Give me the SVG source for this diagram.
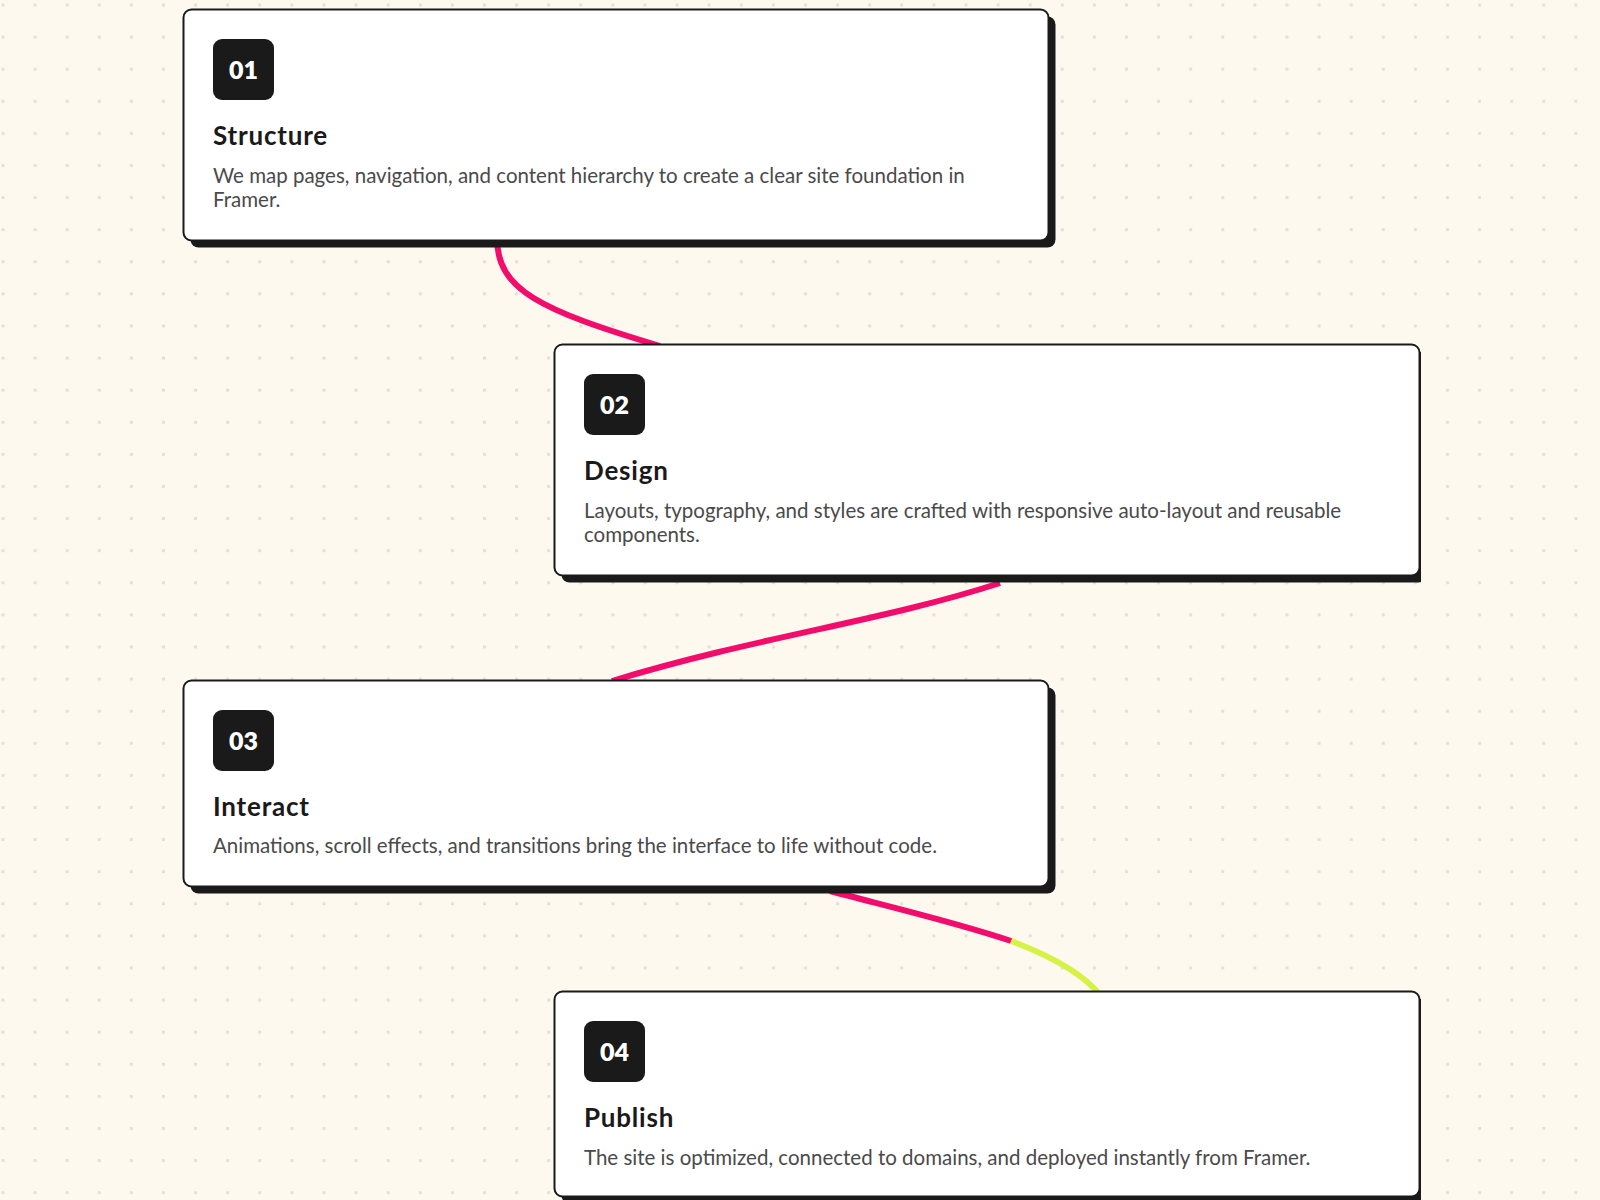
<svg xmlns="http://www.w3.org/2000/svg" width="1600" height="1200" viewBox="0 0 1600 1200">
  <defs>
    <pattern id="dots" x="1.5" y="3.5" width="32.1" height="32.1" patternUnits="userSpaceOnUse">
      <rect width="3" height="3" fill="#e4e0d8"/>
    </pattern>
    <clipPath id="pageClip">
      <rect x="0" y="0" width="1421" height="1200"/>
    </clipPath>
    <style>
      .shadow { fill: #1a1a1a; }
      .card { fill: #ffffff; stroke: #1a1a1a; stroke-width: 2; }
      .badge { fill: #1a1a1a; }
      .num { font-family: "Lato", "Liberation Sans", sans-serif; font-weight: 800; font-size: 25px; fill: #ffffff; text-anchor: middle; }
      .title { font-family: "Lato", "Liberation Sans", sans-serif; font-weight: 700; font-size: 26px; letter-spacing: 0.8px; fill: #1a1a1a; }
      .desc { font-family: "Lato", "Liberation Sans", sans-serif; font-weight: 400; font-size: 20.5px; fill: #4a4a4a; }
      .conn { fill: none; stroke-width: 6; stroke-linecap: butt; }
      .pink { stroke: #f20c6c; }
      .lime { stroke: #d6f244; }
    </style>
  </defs>
  <rect width="1600" height="1200" fill="#fdf9ee"/>
  <rect width="1600" height="1200" fill="url(#dots)"/>

  <g id="connectors">
    <path class="conn pink" d="M497,238 C497,290 540,310 660,346"/>
    <path class="conn pink" d="M1000,583 C880,622 760,636 612,681"/>
    <path class="conn pink" d="M830,891 C892.7,907.5 958.6,923 1011.2,941"/>
    <path class="conn lime" d="M1011.2,941 C1050.8,956 1082.8,973 1100,995"/>
  </g>

  <g id="step-01">
    <rect class="shadow" x="190.5" y="16.5" width="865" height="231" rx="8" clip-path="url(#pageClip)"/>
    <rect class="card" x="183.5" y="9.5" width="865" height="231" rx="8"/>
    <rect class="badge" x="213" y="39" width="61" height="61" rx="9"/>
    <text class="num" x="243.5" y="78.5">01</text>
    <text class="title" x="213" y="145">Structure</text>
    <text class="desc" x="213" y="183">We map pages, navigation, and content hierarchy to create a clear site foundation in</text>
    <text class="desc" x="213" y="207">Framer.</text>
  </g>

  <g id="step-02">
    <rect class="shadow" x="561.5" y="351.5" width="865" height="231" rx="8" clip-path="url(#pageClip)"/>
    <rect class="card" x="554.5" y="344.5" width="865" height="231" rx="8"/>
    <rect class="badge" x="584" y="374" width="61" height="61" rx="9"/>
    <text class="num" x="614.5" y="413.5">02</text>
    <text class="title" x="584" y="480">Design</text>
    <text class="desc" x="584" y="518">Layouts, typography, and styles are crafted with responsive auto-layout and reusable</text>
    <text class="desc" x="584" y="542">components.</text>
  </g>

  <g id="step-03">
    <rect class="shadow" x="190.5" y="687.5" width="865" height="206" rx="8" clip-path="url(#pageClip)"/>
    <rect class="card" x="183.5" y="680.5" width="865" height="206" rx="8"/>
    <rect class="badge" x="213" y="710" width="61" height="61" rx="9"/>
    <text class="num" x="243.5" y="749.5">03</text>
    <text class="title" x="213" y="815.5">Interact</text>
    <text class="desc" x="213" y="852.5">Animations, scroll effects, and transitions bring the interface to life without code.</text>
  </g>

  <g id="step-04">
    <rect class="shadow" x="561.5" y="998.5" width="865" height="205" rx="8" clip-path="url(#pageClip)"/>
    <rect class="card" x="554.5" y="991.5" width="865" height="205" rx="8"/>
    <rect class="badge" x="584" y="1021" width="61" height="61" rx="9"/>
    <text class="num" x="614.5" y="1060.5">04</text>
    <text class="title" x="584" y="1126.5">Publish</text>
    <text class="desc" x="584" y="1165">The site is optimized, connected to domains, and deployed instantly from Framer.</text>
  </g>
</svg>
